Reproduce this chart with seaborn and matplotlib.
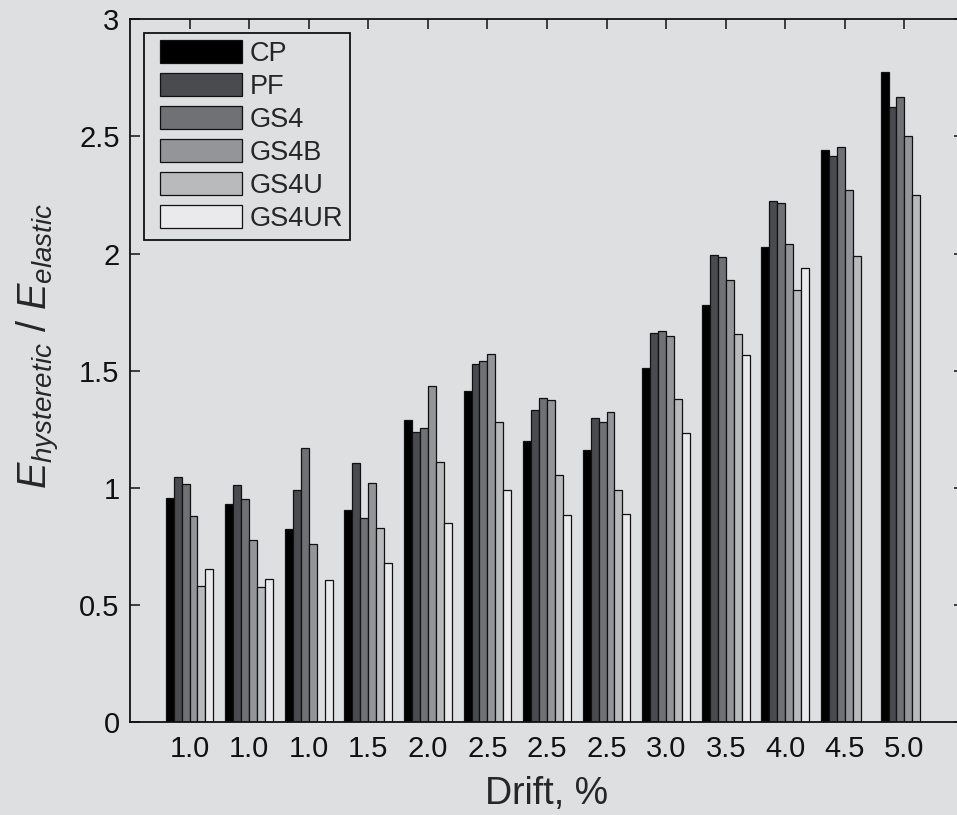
import numpy as np
import pandas as pd
import matplotlib
matplotlib.use("Agg")
import matplotlib.pyplot as plt
from matplotlib.patches import Rectangle, Patch
from matplotlib.legend_handler import HandlerPatch
import seaborn as sns

# ---- data ----
drift_labels = ["1.0", "1.0", "1.0", "1.5", "2.0", "2.5", "2.5", "2.5",
                "3.0", "3.5", "4.0", "4.5", "5.0"]
specimens = ["CP", "PF", "GS4", "GS4B", "GS4U", "GS4UR"]

cp = [0.955, 0.93, 0.825, 0.905, 1.29, 1.415, 1.20, 1.16, 1.51, 1.78, 2.03, 2.44, 2.775]
pf = [1.045, 1.01, 0.99, 1.105, 1.24, 1.53, 1.33, 1.30, 1.66, 1.995, 2.225, 2.415, 2.625]
gs4 = [1.015, 0.95, 1.17, 0.87, 1.255, 1.54, 1.385, 1.28, 1.67, 1.985, 2.215, 2.455, 2.67]
gs4b = [0.88, 0.775, 0.76, 1.02, 1.435, 1.57, 1.375, 1.325, 1.65, 1.885, 2.04, 2.27, 2.50]
gs4u = [0.58, 0.575, np.nan, 0.83, 1.11, 1.28, 1.055, 0.99, 1.38, 1.655, 1.845, 1.99, 2.25]
gs4ur = [0.655, 0.61, 0.605, 0.68, 0.85, 0.99, 0.885, 0.89, 1.235, 1.565, 1.94, np.nan, np.nan]

colors = ["#000000", "#4a4b4f", "#707174", "#949598", "#b9babc", "#eaeaec"]
BG = "#dedfe1"

# ---- long table ----
series = [cp, pf, gs4, gs4b, gs4u, gs4ur]
rows = []
for name, vals in zip(specimens, series):
    for i, v in enumerate(vals):
        rows.append({"cycle": i, "specimen": name, "ratio": v})
df = pd.DataFrame(rows).dropna()

sns.set_style("ticks")
plt.rcParams["font.family"] = ["Liberation Sans", "DejaVu Sans"]
plt.rcParams["mathtext.fontset"] = "custom"
plt.rcParams["mathtext.it"] = "Liberation Sans:italic"
plt.rcParams["mathtext.rm"] = "Liberation Sans"

fig = plt.figure(figsize=(9.57, 8.15), dpi=100, facecolor=BG)
ax = fig.add_axes([0.1358, 0.1141, 0.8715, 0.8622])
ax.set_facecolor(BG)

sns.barplot(data=df, x="cycle", y="ratio", hue="specimen", hue_order=specimens,
            order=list(range(len(drift_labels))), palette=colors, width=0.8,
            errorbar=None, edgecolor="#111111", linewidth=0.9, saturation=1,
            ax=ax)

ax.set_xlim(-1, 13)
ax.set_ylim(0, 3)
ax.set_yticks([0, 0.5, 1, 1.5, 2, 2.5, 3])
ax.set_yticklabels(["0", "0.5", "1", "1.5", "2", "2.5", "3"], fontsize=21)
ax.set_xticks(range(len(drift_labels)))
ax.set_xticklabels(drift_labels, fontsize=21)

ax.tick_params(direction="in", top=True, right=True, length=7, width=1.1,
               colors="#111111")
ax.tick_params(axis="x", pad=9)
ax.tick_params(axis="y", pad=7.5)
for s in ax.spines.values():
    s.set_visible(True)
    s.set_linewidth(1.3)
    s.set_color("#111111")

ax.set_xlabel("Drift, %", fontsize=27, labelpad=10)
ax.set_ylabel(r"$E_{hysteretic}$ / $E_{elastic}$", fontsize=28.5)
ax.yaxis.set_label_coords(-0.082, 0.535)

handles, labels = ax.get_legend_handles_labels()
hp = HandlerPatch(xpad=0.33)
leg = ax.legend(handles, labels, loc="upper left", fontsize=19.5, frameon=True,
                fancybox=False, framealpha=1, facecolor=BG, edgecolor="#111111",
                handlelength=3.35, handleheight=0.93, labelspacing=0.23,
                handletextpad=0.3, borderpad=0.27, borderaxespad=0.5,
                handler_map={Rectangle: hp, Patch: hp})
leg.get_frame().set_linewidth(1.3)

fig.savefig("out.png", dpi=100, facecolor=BG)
